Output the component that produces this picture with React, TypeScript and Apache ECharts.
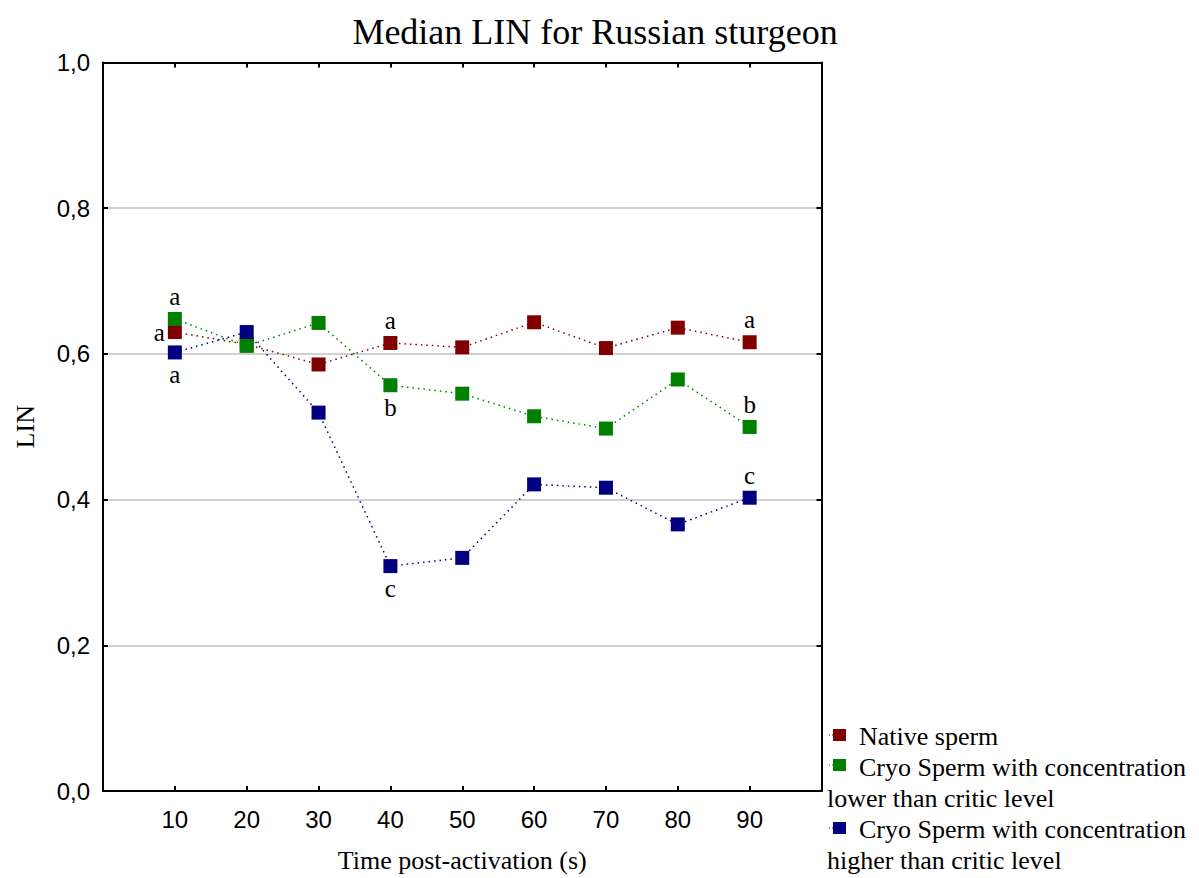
import React, { useEffect, useRef } from "react";
import * as echarts from "echarts";

const times = [10, 20, 30, 40, 50, 60, 70, 80, 90];
const nativeSperm = [0.630, 0.613, 0.5855, 0.615, 0.609, 0.6434, 0.608, 0.636, 0.616];
const cryoLower = [0.648, 0.611, 0.6425, 0.557, 0.5454, 0.5144, 0.4975, 0.5649, 0.4997];
const cryoHigher = [0.602, 0.630, 0.5194, 0.3087, 0.320, 0.4209, 0.4163, 0.366, 0.4026];

const seriesNames = [
  "Native sperm",
  "Cryo Sperm with concentration lower than critic level",
  "Cryo Sperm with concentration higher than critic level",
];
const seriesColors = ["#800000", "#008000", "#000080"];

// letter annotations: [seriesIndex, time, letter, position]
const annotations: [number, number, string, string][] = [
  [0, 10, "a", "left"],
  [1, 10, "a", "top"],
  [2, 10, "a", "bottom"],
  [0, 40, "a", "top"],
  [1, 40, "b", "bottom"],
  [2, 40, "c", "bottom"],
  [0, 90, "a", "top"],
  [1, 90, "b", "top"],
  [2, 90, "c", "top"],
];

const serif = "'Liberation Serif', 'Times New Roman', serif";
const sans = "'Liberation Sans', Arial, sans-serif";

export default function App() {
  const ref = useRef<HTMLDivElement>(null);
  useEffect(() => {
    if (!ref.current) return;
    const chart = echarts.init(ref.current, undefined, { renderer: "svg" });
    const allData = [nativeSperm, cryoLower, cryoHigher];
    const series = allData.map((vals, si) => ({
      name: seriesNames[si],
      type: "line",
      xAxisIndex: 0,
      yAxisIndex: 0,
      symbol: "rect",
      symbolSize: 14,
      z: 2 + si,
      itemStyle: { color: seriesColors[si] },
      lineStyle: { color: seriesColors[si], width: 1.5, type: [1.5, 4] },
      data: vals.map((v, i) => {
        const ann = annotations.find((a) => a[0] === si && a[1] === times[i]);
        const item: any = { value: [times[i], v] };
        if (ann) {
          item.label = {
            show: true,
            formatter: ann[2],
            position: ann[3],
            distance: 3,
            fontFamily: serif,
            fontSize: 25,
            color: "#000",
          };
        }
        return item;
      }),
    }));

    const legendTop = [735, 765, 828];
    const graphic: any[] = [];
    legendTop.forEach((y, i) => {
      graphic.push({
        type: "line",
        shape: { x1: 829, y1: y, x2: 833, y2: y },
        style: { stroke: seriesColors[i], lineWidth: 1, lineDash: [1, 2] },
      });
      graphic.push({
        type: "rect",
        shape: { x: 833, y: y - 6, width: 13, height: 12 },
        style: { fill: seriesColors[i] },
      });
    });
    const legendTexts: [number, number, string][] = [
      [859, 736, "Native sperm"],
      [859, 767, "Cryo Sperm with concentration"],
      [827, 798, "lower than critic level"],
      [859, 829, "Cryo Sperm with concentration"],
      [827, 860, "higher than critic level"],
    ];
    legendTexts.forEach(([x, y, t]) => {
      graphic.push({
        type: "text",
        x,
        y,
        style: {
          text: t,
          fill: "#000",
          font: `26px ${serif}`,
          verticalAlign: "middle",
        },
      });
    });

    chart.setOption({
      animation: false,
      title: {
        text: "Median LIN for Russian sturgeon",
        left: 590,
        top: 9,
        textAlign: "center",
        textStyle: { fontFamily: serif, fontSize: 36, fontWeight: "normal", color: "#000" },
      },
      grid: { left: 103, top: 62.5, width: 718.5, height: 730, containLabel: false },
      xAxis: [
        {
          type: "value",
          min: 0,
          max: 100,
          interval: 10,
          position: "bottom",
          name: "Time post-activation (s)",
          nameLocation: "middle",
          nameGap: 56,
          nameMoveOverlap: false,
          nameTextStyle: { fontFamily: serif, fontSize: 26, color: "#000" },
          axisLine: { show: true, onZero: false, lineStyle: { color: "#000", width: 2 } },
          axisTick: { show: true, inside: true, length: 5, lineStyle: { color: "#000", width: 2 } },
          axisLabel: {
            fontFamily: sans,
            fontSize: 24,
            color: "#000",
            margin: 16,
            formatter: (v: number) => (v === 0 || v === 100 ? "" : String(v)),
          },
          splitLine: { show: false },
        },
        {
          type: "value",
          min: 0,
          max: 100,
          interval: 10,
          position: "top",
          axisLine: { show: true, onZero: false, lineStyle: { color: "#000", width: 2 } },
          axisTick: { show: true, inside: true, length: 5, lineStyle: { color: "#000", width: 2 } },
          axisLabel: { show: false },
          splitLine: { show: false },
        },
      ],
      yAxis: [
        {
          type: "value",
          min: 0,
          max: 1,
          interval: 0.2,
          position: "left",
          name: "LIN",
          nameLocation: "middle",
          nameGap: 65,
          nameMoveOverlap: false,
          nameRotate: 90,
          nameTextStyle: { fontFamily: serif, fontSize: 26, color: "#000" },
          axisLine: { show: true, onZero: false, lineStyle: { color: "#000", width: 2 } },
          axisTick: { show: true, inside: true, length: 5, lineStyle: { color: "#000", width: 2 } },
          axisLabel: {
            fontFamily: sans,
            fontSize: 24,
            color: "#000",
            margin: 13,
            formatter: (v: number) => v.toFixed(1).replace(".", ","),
          },
          splitLine: { show: true, lineStyle: { color: "#d0d0d0", width: 2 } },
        },
        {
          type: "value",
          min: 0,
          max: 1,
          interval: 0.2,
          position: "right",
          axisLine: { show: true, onZero: false, lineStyle: { color: "#000", width: 2 } },
          axisTick: { show: true, inside: true, length: 5, lineStyle: { color: "#000", width: 2 } },
          axisLabel: { show: false },
          splitLine: { show: false },
        },
      ],
      series,
      graphic,
    });
    return () => chart.dispose();
  }, []);
  return (
    <div
      ref={ref}
      style={{ position: "fixed", left: 0, top: 0, width: 1199, height: 878, background: "#fff" }}
    />
  );
}
